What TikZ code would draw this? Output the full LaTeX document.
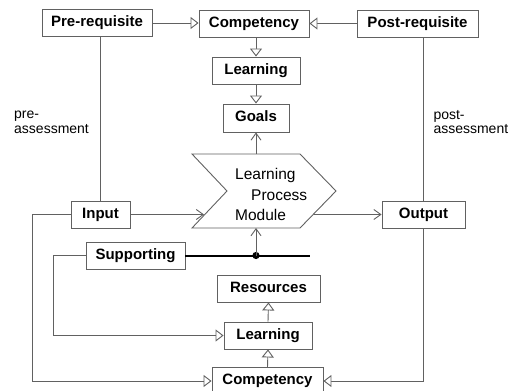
\documentclass[tikz,border=0pt]{standalone}
\usepackage{fontspec}
\setmainfont{Liberation Sans}
\usetikzlibrary{arrows.meta}
\begin{document}
\begin{tikzpicture}[x=1pt,y=-1pt,
  line/.style={draw=black!62, line width=0.9pt},
  box/.style={draw=black!62, line width=0.9pt, rectangle, inner sep=0pt, minimum height=27pt,
    font=\fontsize{15}{17}\selectfont\bfseries, text height=0.72em, text depth=0pt},
  tri/.style={-{Triangle[open, length=8pt, width=12pt, fill=white]}},
  barb/.style={-{Straight Barb[length=7pt, width=10pt]}},
  lbl/.style={font=\fontsize{14}{14.5}\selectfont, align=left, inner sep=0pt},
  proctext/.style={font=\fontsize{15.5}{17}\selectfont, inner sep=0pt, anchor=base west}
]
\useasboundingbox (0,0) rectangle (510,390);

% top row
\node[box, minimum width=110pt] (pre) at (97,23) {Pre-requisite};
\node[box, minimum width=110pt] (compT) at (254,23.5) {Competency};
\node[box, minimum width=121pt] (post) at (417.5,23.5) {Post-requisite};
\node[box, minimum width=88pt] (learnT) at (256,70.5) {Learning};
\node[box, minimum width=66pt, minimum height=28pt] (goals) at (256,118) {Goals};

% process module
\coordinate (pa) at (192,154);
\coordinate (pb) at (300,154);
\coordinate (pc) at (336,191);
\coordinate (pd) at (300,228);
\coordinate (pe) at (192,228);
\coordinate (pf) at (227,191);
\draw[line] (pa) -- (pb) -- (pc) -- (pd) -- (pe) -- (pf) -- cycle;
\node[proctext] (p1) at (235,179) {Learning};
\node[proctext] (p2) at (251,200) {Process};
\node[proctext] (p3) at (235,220) {Module};
\coordinate (pin) at (204,214.5);
\coordinate (pout) at (313.5,214.5);
\coordinate (ptop) at (256,154);
\coordinate (pbot) at (256,228);

% middle
\node[box, minimum width=59pt] (input) at (100.5,214.5) {Input};
\node[box, minimum width=83pt] (output) at (423.5,214.5) {Output};
\node[box, minimum width=99pt] (supp) at (135.5,255.5) {Supporting};

% bottom
\node[box, minimum width=103pt] (res) at (268.5,288.5) {Resources};
\node[box, minimum width=88pt] (learnB) at (268,335.5) {Learning};
\node[box, minimum width=111pt] (compB) at (267.5,381) {Competency};

% labels
\node[lbl, anchor=base west] (prel) at (14,133.3) {pre-\\assessment};
\node[lbl, anchor=base west] (postl) at (433.3,134) {post-\\assessment};

% connectors top
\draw[line, tri] (pre.east) -- (pre.east -| compT.west);
\draw[line, tri] (post.west) -- (post.west -| compT.east);
\draw[line, tri] (learnT.north |- compT.south) -- (learnT.north);
\draw[line, tri] (learnT.south) -- (goals.north);
\draw[line, barb] (ptop) -- (goals.south);

% assessment lines
\draw[line] (input.north |- pre.south) -- (input.north);
\draw[line] (output.north |- post.south) -- (output.north);

% input/output
\draw[line, barb] (input.east) -- (pin);
\draw[line, barb] (pout) -- (output.west);
\draw[line, tri] (output.south) |- (compB.east);
\coordinate (c1) at (32,214.5);
\draw[line, tri] (input.west) -- (c1) |- (compB.west);

% supporting
\coordinate (bus) at (310,255.5);
\coordinate (dot) at (256,255.5);
\coordinate (c2) at (53,255.5);
\draw[black, line width=2pt] (supp.east) -- (bus);
\fill[black] (dot) circle (3.6pt);
\draw[line, barb] (dot) -- (pbot);
\draw[line, tri] (supp.west) -- (c2) |- (learnB.west);

% bottom stack
\draw[line, tri] (learnB.north) -- (res.south);
\draw[line, tri] (compB.north) -- (learnB.south);
\end{tikzpicture}
\end{document}
